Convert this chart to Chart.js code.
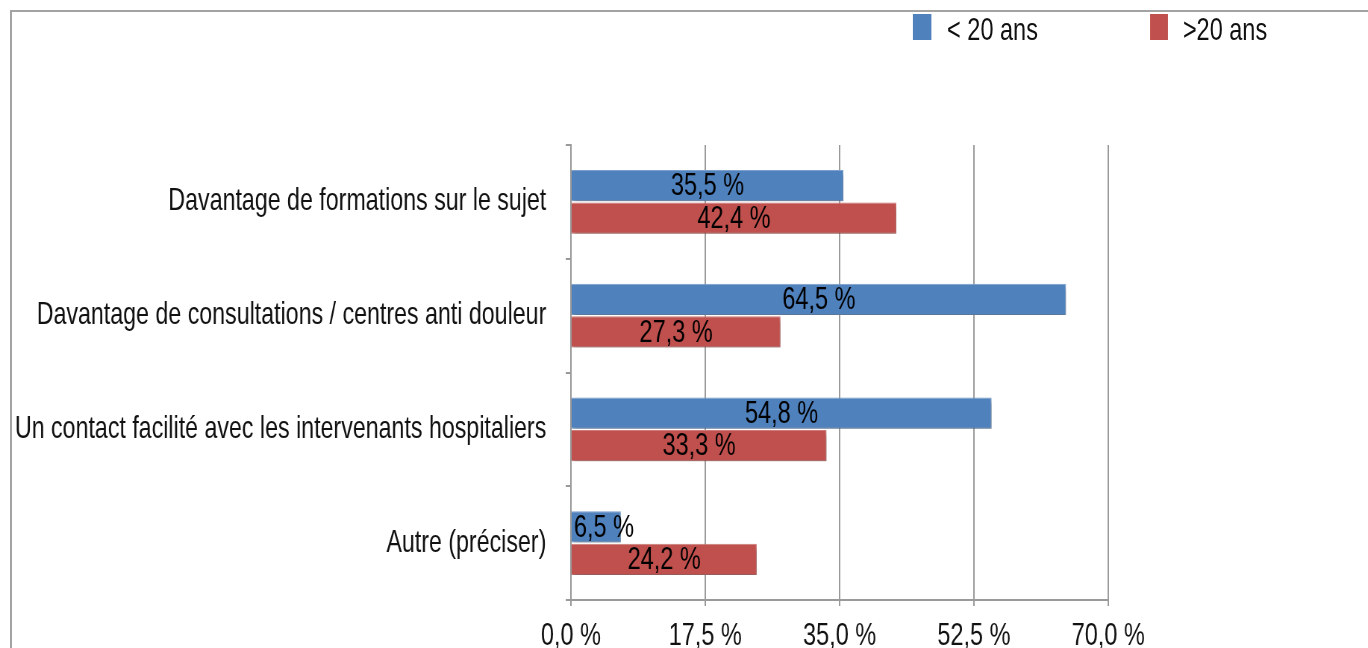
<html lang="fr">
<head>
<meta charset="UTF-8">
<title>Attentes selon l'ancienneté</title>
<script src="https://cdn.jsdelivr.net/npm/chart.js"></script>
<style>
  body { margin: 0; background: #fff; width: 1368px; height: 648px; overflow: hidden; position: relative; }
  #frame { position: absolute; left: 10px; top: 10px; right: 0; bottom: 0; border-top: 2px solid #a3a3a3; border-left: 2px solid #a3a3a3; }
  #wrap { position: absolute; left: 0; top: 0; width: 1833px; height: 648px; transform: scaleX(0.7463); transform-origin: 0 0; }
  .lg-box { position: absolute; top: 14px; height: 26px; }
  .lg-txt { position: absolute; top: 11px; line-height: 31px; font: 31.5px "Liberation Sans", Arial, sans-serif; color: #111; white-space: nowrap; }
</style>
</head>
<body>
<div id="frame"></div>
<div id="wrap">
  <canvas id="chart" width="1833" height="648"></canvas>
  <div class="lg-box" style="left:1223px;width:25px;background:#4f81bd"></div>
  <div class="lg-txt" style="left:1269px">&lt; 20 ans</div>
  <div class="lg-box" style="left:1541px;width:24px;background:#c0504d"></div>
  <div class="lg-txt" style="left:1585px">&gt;20 ans</div>
</div>

<script>
  // données
  const categories = [
    'Davantage de formations sur le sujet',
    'Davantage de consultations / centres anti douleur',
    'Un contact facilité avec les intervenants hospitaliers',
    'Autre (préciser)'
  ];
  const moins20 = [35.5, 64.5, 54.8, 6.5];
  const plus20 = [42.4, 27.3, 33.3, 24.2];
  const xTicks = [0, 17.5, 35, 52.5, 70];

  const FONT = '"Liberation Sans", Arial, sans-serif';
  const fmt = v => v.toFixed(1).replace('.', ',') + ' %';

  const barShadow = {
    id: 'barShadow',
    beforeDatasetDraw(chart) {
      const c = chart.ctx;
      c.save();
      c.shadowColor = 'rgba(0,0,0,0.35)';
      c.shadowBlur = 5;
      c.shadowOffsetX = 2;
      c.shadowOffsetY = 3;
    },
    afterDatasetDraw(chart) {
      chart.ctx.restore();
    }
  };

  const barLabels = {
    id: 'barLabels',
    afterDatasetsDraw(chart) {
      const c = chart.ctx;
      c.save();
      c.font = '31.5px ' + FONT;
      c.fillStyle = '#000';
      c.textAlign = 'center';
      c.textBaseline = 'middle';
      chart.data.datasets.forEach((ds, i) => {
        chart.getDatasetMeta(i).data.forEach((bar, j) => {
          const txt = fmt(ds.data[j]);
          const w = c.measureText(txt).width;
          const x = Math.max((bar.x + bar.base) / 2, bar.base + w / 2 + 3);
          c.fillText(txt, x, bar.y + 1);
        });
      });
      c.restore();
    }
  };

  new Chart(document.getElementById('chart'), {
    type: 'bar',
    data: {
      labels: categories,
      datasets: [
        { label: '< 20 ans', data: moins20, backgroundColor: '#4f81bd', borderColor: '#7fa3d0', borderWidth: 1, borderSkipped: 'left' },
        { label: '>20 ans', data: plus20, backgroundColor: '#c0504d', borderColor: '#d27d7b', borderWidth: 1, borderSkipped: 'left' }
      ]
    },
    options: {
      indexAxis: 'y',
      responsive: false,
      animation: false,
      categoryPercentage: 0.57,
      barPercentage: 0.96,
      layout: { padding: { top: 145, right: 348, bottom: 0, left: 0 } },
      plugins: { legend: { display: false }, tooltip: { enabled: false } },
      scales: {
        x: {
          min: 0,
          max: 70,
          afterBuildTicks: s => { s.ticks = xTicks.map(v => ({ value: v })); },
          afterFit: s => { s.height = 48; },
          grid: { color: '#9a9a9a', lineWidth: 2, tickLength: 6 },
          border: { color: '#9a9a9a', width: 2 },
          ticks: { callback: v => fmt(v), padding: 11, color: '#111', font: { family: FONT, size: 31.5 }, maxRotation: 0 }
        },
        y: {
          afterFit: s => { s.width = 765; },
          grid: { drawOnChartArea: false, color: '#9a9a9a', lineWidth: 2, tickLength: 7, offset: true },
          border: { color: '#9a9a9a', width: 2 },
          ticks: { padding: 26, color: '#111', font: { family: FONT, size: 31.1 } }
        }
      }
    },
    plugins: [barShadow, barLabels]
  });
</script>
</body>
</html>
